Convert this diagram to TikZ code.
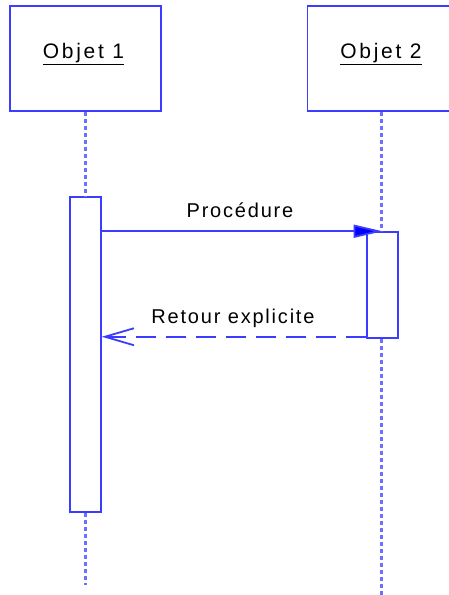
\documentclass[tikz,border=0pt]{standalone}
\usepackage{fontspec}
\setmainfont{Liberation Sans}
\usetikzlibrary{arrows.meta}
\definecolor{boxblue}{RGB}{60,60,255}
\definecolor{lifeblue}{RGB}{110,110,255}
\begin{document}
\begin{tikzpicture}[x=1pt,y=-1pt,
  objbox/.style={draw=boxblue,line width=1.6pt,minimum width=151pt,minimum height=105pt,inner sep=0pt},
  actbox/.style={draw=boxblue,line width=1.5pt,fill=white,minimum width=31pt,inner sep=0pt},
  lifeline/.style={draw=lifeblue,line width=2.5pt,dash pattern=on 4pt off 3pt},
  objlbl/.style={font=\fontsize{21}{24}\selectfont\addfontfeatures{LetterSpace=13},inner sep=0pt,anchor=base},
  lbl/.style={font=\fontsize{20}{23}\selectfont\addfontfeatures{LetterSpace=9},inner sep=0pt,anchor=base},
  callmsg/.style={draw=boxblue,line width=1.8pt,-{Triangle[length=29pt,width=13pt,fill=blue]}},
  retmsg/.style={draw=boxblue,line width=1.8pt,dash pattern=on 20pt off 10pt,-{Straight Barb[length=29pt,width=17pt]}}
]
\useasboundingbox (0,0) rectangle (449,595);
\node[objbox] (o1) at (85.5,58.5) {};
\node[objbox,minimum width=148pt] (o2) at (381.5,58.5) {};
\node[objlbl] (t1) at (83.5,58) {\underline{Objet 1}};
\node[objlbl] (t2) at (381,58) {\underline{Objet 2}};
\node[actbox,minimum height=315pt] (a1) at (85.5,354.5) {};
\node[actbox,minimum height=106pt] (a2) at (382.5,285) {};
\coordinate (e1) at (85.5,585);
\coordinate (e2) at (381.5,596);
\draw[lifeline] (o1.south) -- (o1.south |- a1.north);
\draw[lifeline] (o1.south |- a1.south) -- (e1);
\draw[lifeline] (o2.south) -- (o2.south |- a2.north);
\draw[lifeline] (o2.south |- a2.south) -- (e2);
\draw[callmsg] (a1.east |- a2.north) -- (a2.north);
\node[lbl] (l1) at (240,217) {Procédure};
\draw[retmsg] ([yshift=2pt]a2.south west) -- ([yshift=2pt]a2.south west -| a1.east);
\node[lbl] (l2) at (233,323) {Retour explicite};
\end{tikzpicture}
\end{document}
